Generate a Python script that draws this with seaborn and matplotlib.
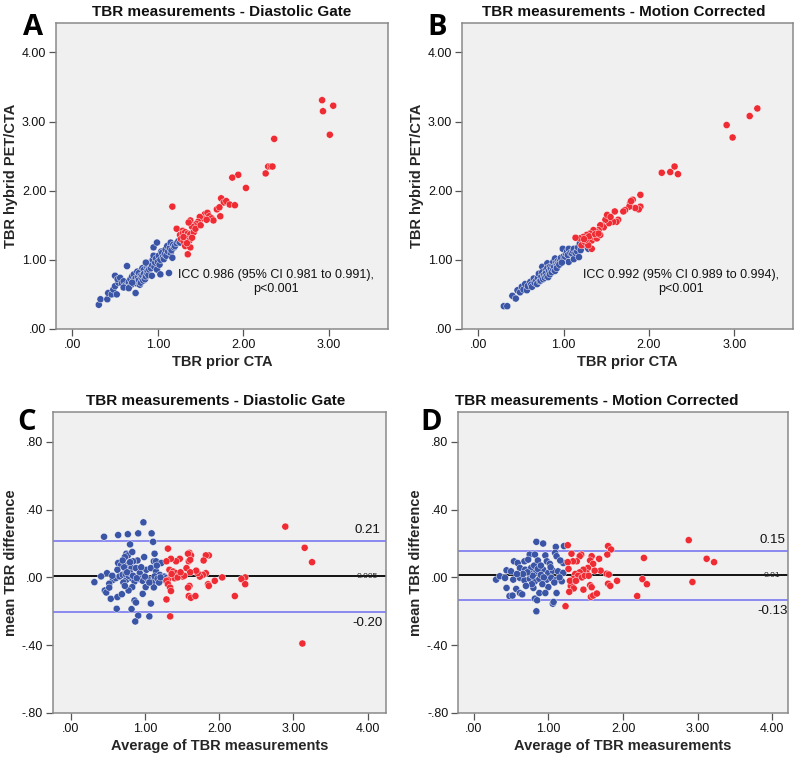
import numpy as np
import pandas as pd
import matplotlib
matplotlib.use("Agg")
import matplotlib.pyplot as plt
import seaborn as sns
from matplotlib.ticker import FuncFormatter

# ---- data ----
a_blue = [(0.31,0.35),(0.33,0.43),(0.41,0.43),(0.42,0.52),(0.46,0.50),(0.48,0.57),(0.52,0.50),(0.50,0.62),
          (0.54,0.67),(0.50,0.77),(0.53,0.72),(0.56,0.74),(0.58,0.66),(0.60,0.69),(0.62,0.63),(0.64,0.62),
          (0.64,0.91),(0.66,0.68),(0.68,0.72),(0.69,0.64),(0.70,0.76),(0.72,0.79),(0.72,0.70),(0.74,0.52),
          (0.74,0.73),(0.75,0.66),(0.76,0.69),(0.76,0.83),(0.77,0.75),(0.78,0.81),(0.78,0.71),(0.79,0.64),
          (0.80,0.67),(0.80,0.77),(0.81,0.74),(0.82,0.77),(0.82,0.88),(0.83,0.70),(0.84,0.86),(0.84,0.80),
          (0.85,0.72),(0.86,0.76),(0.87,0.81),(0.87,0.90),(0.88,0.84),(0.89,0.91),(0.89,0.78),(0.90,0.86),
          (0.91,0.96),(0.92,0.88),(0.93,0.77),(0.93,0.93),(0.94,1.00),(0.95,1.06),(0.95,1.18),(0.96,0.90),
          (0.97,0.96),(0.98,1.02),(0.99,0.86),(0.99,1.25),(1.00,0.97),(1.01,1.06),(1.02,0.93),(1.03,0.79),
          (1.03,1.00),(1.04,1.12),(1.05,1.10),(1.06,1.04),(1.07,1.01),(1.08,1.08),(1.09,1.15),(1.10,1.06),
          (1.11,1.20),(1.12,1.12),(1.13,0.81),(1.14,1.17),(1.15,1.10),(1.15,1.25),(1.16,1.14),(1.17,1.03),
          (1.18,1.22),(1.19,1.18),(1.20,1.20),(1.22,1.24),(1.24,1.27),(1.26,1.25),(1.28,1.30),(0.60,0.60),
          (0.66,0.59),(0.70,0.67),(0.86,0.96)]
a_red = [(2.92,3.31),(3.05,3.23),(2.93,3.15),(3.01,2.81),(2.36,2.75),(2.29,2.35),(2.32,2.35),(2.34,2.35),
         (2.26,2.25),(1.94,2.23),(1.87,2.19),(2.03,2.04),(1.17,1.77),(1.74,1.89),(1.77,1.83),(1.80,1.85),
         (1.84,1.80),(1.90,1.79),(1.69,1.73),(1.72,1.76),(1.73,1.63),(1.55,1.66),(1.58,1.68),(1.60,1.63),
         (1.63,1.60),(1.65,1.57),(1.52,1.60),(1.49,1.62),(1.47,1.55),(1.45,1.52),(1.42,1.50),(1.40,1.48),
         (1.38,1.57),(1.36,1.54),(1.22,1.45),(1.29,1.42),(1.26,1.36),(1.29,1.38),(1.32,1.40),(1.35,1.38),
         (1.38,1.37),(1.42,1.40),(1.27,1.30),(1.30,1.27),(1.33,1.31),(1.37,1.28),(1.40,1.32),(1.32,1.20),
         (1.38,1.18),(1.35,1.08),(1.44,1.45),(1.50,1.50),(1.57,1.58),(1.30,1.33),(1.34,1.24)]

b_blue = [(0.30,0.33),(0.34,0.33),(0.40,0.48),(0.44,0.44),(0.46,0.56),(0.49,0.53),(0.51,0.61),(0.53,0.57),
          (0.55,0.65),(0.57,0.56),(0.58,0.62),(0.61,0.68),(0.62,0.64),(0.63,0.61),(0.65,0.73),(0.66,0.67),
          (0.68,0.70),(0.69,0.65),(0.70,0.74),(0.71,0.80),(0.72,0.69),(0.73,0.70),(0.74,0.76),(0.75,0.90),
          (0.75,0.82),(0.76,0.72),(0.77,0.78),(0.78,0.74),(0.79,0.85),(0.79,0.80),(0.80,0.76),(0.81,0.95),
          (0.81,0.88),(0.82,0.75),(0.83,0.84),(0.84,0.90),(0.84,0.79),(0.85,0.87),(0.86,0.82),(0.87,0.92),
          (0.88,0.97),(0.88,0.86),(0.89,0.90),(0.90,1.02),(0.90,0.84),(0.91,0.95),(0.92,0.92),(0.93,0.98),
          (0.94,0.95),(0.96,0.99),(0.97,1.03),(0.99,1.16),(1.00,1.05),(1.02,1.04),(1.03,1.09),(1.04,1.12),
          (1.05,1.07),(1.06,1.16),(1.06,0.97),(1.08,1.10),(1.10,1.09),(1.11,1.13),(1.12,1.16),(1.12,1.01),
          (1.14,1.10),(1.16,1.12),(1.17,1.18),(1.18,1.04),(1.19,1.24),(1.21,1.19),(1.23,1.21),(1.25,1.23),
          (1.27,1.20),(1.29,1.16),(1.20,1.14),(0.92,0.88),(0.95,0.93),(0.98,0.96)]
b_red = [(3.27,3.19),(3.18,3.08),(2.91,2.95),(2.98,2.77),(2.15,2.26),(2.25,2.27),(2.30,2.35),(2.34,2.24),
         (1.90,1.94),(1.90,1.77),(1.88,1.73),(1.84,1.75),(1.81,1.87),(1.78,1.82),(1.77,1.77),(1.79,1.85),
         (1.72,1.72),(1.70,1.70),(1.60,1.70),(1.64,1.58),(1.62,1.55),(1.58,1.55),(1.53,1.53),(1.49,1.58),
         (1.51,1.65),(1.55,1.62),(1.45,1.50),(1.47,1.47),(1.43,1.50),(1.41,1.43),(1.38,1.41),(1.35,1.43),
         (1.31,1.38),(1.27,1.36),(1.23,1.33),(1.19,1.31),(1.14,1.32),(1.21,1.21),(1.25,1.26),(1.29,1.30),
         (1.33,1.28),(1.36,1.33),(1.39,1.31),(1.43,1.36),(1.33,1.16),(1.29,1.21),(1.26,1.29),(1.30,1.34),
         (1.37,1.37),(1.41,1.38),(1.24,1.30)]

c_blue = [(0.98,0.325),(1.09,0.26),(1.11,0.21),(0.91,0.26),(0.77,0.255),(0.64,0.25),(0.45,0.24),(0.80,0.195),
          (0.75,0.14),(0.77,0.13),(0.73,0.12),(0.83,0.15),(0.99,0.12),(1.13,0.14),(1.12,0.095),(1.15,0.095),
          (1.22,0.085),(0.90,0.10),(0.84,0.095),(0.64,0.085),(0.68,0.075),(0.77,0.075),(0.79,0.065),(0.63,0.045),
          (0.75,0.045),(0.79,0.035),(0.82,0.055),(0.88,0.055),(0.93,0.025),(1.02,0.045),(1.08,0.055),(1.15,0.035),
          (1.20,0.015),(1.26,0.005),(0.49,0.025),(0.41,0.006),(0.32,-0.028),(0.57,-0.014),(0.61,-0.004),(0.66,0.006),
          (0.70,0.016),(0.75,-0.014),(0.82,-0.004),(0.86,-0.024),(0.93,-0.01),(0.97,-0.02),(1.04,-0.01),(1.11,-0.024),
          (1.13,0.006),(1.17,-0.008),(1.24,-0.014),(1.29,-0.004),(0.52,-0.037),(0.46,-0.077),(0.48,-0.089),
          (0.54,-0.126),(0.63,-0.116),(0.69,-0.099),(0.83,-0.057),(1.01,-0.057),(1.12,-0.059),(0.97,-0.097),
          (0.86,-0.136),(0.88,-0.148),(1.08,-0.154),(0.62,-0.185),(0.82,-0.187),(0.91,-0.225),(0.87,-0.26),
          (1.06,-0.23),(0.78,-0.077),(0.74,0.02),(0.78,0.01),(0.80,0.025),(0.72,0.06),(0.76,0.03),(0.84,0.01),
          (0.89,-0.005),(1.00,0.005),(1.06,-0.03),(1.19,-0.03),(1.21,0.00),(0.71,-0.03),(0.73,-0.05),(0.95,0.06),
          (0.56,0.01),(0.52,-0.06),(1.16,0.07),(0.70,0.10),(0.80,0.09)]
c_red = [(2.89,0.30),(3.15,0.175),(3.25,0.09),(3.12,-0.39),(2.35,0.00),(2.30,-0.01),(2.35,-0.04),(2.21,-0.11),
         (2.04,0.00),(1.94,-0.02),(1.86,0.13),(1.82,0.13),(1.79,0.10),(1.85,-0.04),(1.86,-0.05),(1.82,0.025),
         (1.78,0.015),(1.74,0.005),(1.71,0.025),(1.69,0.04),(1.60,0.145),(1.62,0.13),(1.58,0.14),(1.59,0.095),
         (1.61,0.104),(1.56,0.055),(1.61,0.03),(1.60,-0.05),(1.58,-0.06),(1.59,-0.11),(1.62,-0.12),(1.68,-0.11),
         (1.47,0.11),(1.42,0.095),(1.35,0.11),(1.31,0.17),(1.29,0.095),(1.33,0.045),(1.38,0.035),(1.42,0.025),
         (1.47,0.015),(1.51,0.005),(1.35,0.005),(1.40,-0.005),(1.31,-0.015),(1.29,-0.02),(1.31,-0.04),(1.34,-0.06),
         (1.35,-0.08),(1.29,-0.13),(1.34,-0.23),(1.44,0.00),(1.53,0.01),(1.48,0.03),(1.36,0.02)]

d_blue = [(0.84,0.21),(0.93,0.20),(1.10,0.18),(1.21,0.185),(0.75,0.135),(0.82,0.135),(0.96,0.13),(1.09,0.145),
          (1.11,0.125),(0.54,0.095),(0.59,0.085),(0.68,0.095),(0.73,0.105),(0.98,0.095),(1.02,0.08),(1.20,0.085),
          (0.44,0.042),(0.50,0.036),(0.62,0.056),(0.69,0.046),(0.77,0.056),(0.84,0.036),(0.93,0.046),(1.00,0.027),
          (1.06,0.04),(1.13,0.036),(1.20,0.027),(0.30,-0.013),(0.35,0.007),(0.42,-0.003),(0.53,-0.013),(0.62,-0.003),
          (0.68,-0.017),(0.75,-0.007),(0.82,-0.023),(0.88,-0.009),(0.98,-0.013),(1.04,-0.003),(1.11,-0.013),
          (1.18,-0.023),(0.44,-0.062),(0.48,-0.11),(0.52,-0.107),(0.57,-0.068),(0.62,-0.092),(0.65,-0.10),
          (0.80,-0.062),(0.88,-0.092),(0.82,-0.125),(0.85,-0.135),(1.00,-0.057),(1.11,-0.092),(1.06,-0.155),
          (1.07,-0.145),(0.84,-0.20),(0.96,-0.092),(0.76,0.02),(0.79,0.01),(0.81,0.07),(0.86,0.05),(0.90,0.015),
          (0.94,0.00),(0.72,0.03),(0.66,0.02),(0.78,-0.04),(0.92,-0.04),(1.03,0.06),(1.15,0.00),(0.58,0.02),
          (0.70,-0.05),(0.86,0.10),(1.16,0.10),(0.90,0.07),(1.08,-0.03)]
d_red = [(2.88,0.22),(3.12,0.11),(3.22,0.09),(2.93,-0.027),(2.28,0.115),(2.26,-0.01),(2.32,-0.04),(2.19,-0.11),
         (1.92,-0.02),(1.80,0.185),(1.84,0.165),(1.79,0.135),(1.78,0.022),(1.81,0.017),(1.80,-0.037),(1.83,-0.05),
         (1.70,0.04),(1.68,0.11),(1.58,0.125),(1.56,0.10),(1.60,0.08),(1.53,0.056),(1.51,0.027),(1.47,0.046),
         (1.42,0.03),(1.44,0.135),(1.42,0.125),(1.38,0.095),(1.31,0.14),(1.33,0.095),(1.26,0.19),(1.26,0.09),
         (1.56,-0.046),(1.58,-0.058),(1.57,-0.115),(1.60,-0.107),(1.65,-0.095),(1.47,-0.072),(1.32,-0.03),
         (1.30,-0.05),(1.34,-0.065),(1.28,-0.085),(1.23,-0.17),(1.36,0.02),(1.40,0.01),(1.45,0.00),(1.49,0.01),
         (1.54,0.01),(1.33,-0.01),(1.29,-0.02),(1.37,-0.02),(1.62,0.04),(1.27,0.05)]

# Bland-Altman lines (upper LoA, mean, lower LoA) and their printed labels
c_lines = [0.215, 0.007, -0.203]
c_labels = ["0.21", "0.005", "-0.20"]
d_lines = [0.155, 0.013, -0.135]
d_labels = ["0.15", "0.01", "-0.13"]

icc_a = "ICC 0.986 (95% CI 0.981 to 0.991),\np<0.001"
icc_b = "ICC 0.992 (95% CI 0.989 to 0.994),\np<0.001"

BLUE = "#3b55a6"
RED = "#ef2b33"
LOA = "#7878f0"

sns.set_theme(style="ticks")
plt.rcParams["font.family"] = ["Liberation Sans", "DejaVu Sans"]


def frame(blue, red):
    b = pd.DataFrame(blue, columns=["x", "y"]).assign(g="low")
    r = pd.DataFrame(red, columns=["x", "y"]).assign(g="high")
    return pd.concat([b, r], ignore_index=True)


def spss_fmt(v, pos):
    s = f"{v:.2f}"
    return s.replace("0.", ".", 1) if s.lstrip("-").startswith("0.") else s


fig = plt.figure(figsize=(8, 7.58), dpi=100)
axA = fig.add_axes([0.070, 0.566, 0.415, 0.404])
axB = fig.add_axes([0.5775, 0.566, 0.414, 0.404])
axC = fig.add_axes([0.066, 0.0594, 0.416, 0.397])
axD = fig.add_axes([0.5725, 0.0594, 0.4125, 0.397])

# axis, data, letter, letter position (axes coords, baseline), title, title x
panels = [
    (axA, frame(a_blue, a_red), "A", (-0.10, 0.961), "TBR measurements - Diastolic Gate", 0.5),
    (axB, frame(b_blue, b_red), "B", (-0.106, 0.961), "TBR measurements - Motion Corrected", 0.487),
    (axC, frame(c_blue, c_red), "C", (-0.108, 0.942), "TBR measurements - Diastolic Gate", 0.49),
    (axD, frame(d_blue, d_red), "D", (-0.115, 0.942), "TBR measurements - Motion Corrected", 0.42),
]

for ax, df, letter, lpos, title, tx in panels:
    ax.set_facecolor("#f0f0f0")
    sns.scatterplot(data=df, x="x", y="y", hue="g", palette={"low": BLUE, "high": RED},
                    s=26, linewidth=0.3, edgecolor="white", legend=False, ax=ax, zorder=3)
    for sp in ax.spines.values():
        sp.set_color("#8a8a8a")
        sp.set_linewidth(1.1)
    ax.tick_params(axis="both", direction="out", length=5, width=0.9, color="#555555",
                   labelsize=9, pad=2, labelcolor="#111111")
    ax.xaxis.set_major_formatter(FuncFormatter(spss_fmt))
    ax.yaxis.set_major_formatter(FuncFormatter(spss_fmt))
    ax.set_title(title, x=tx, fontsize=11, fontweight="bold", pad=5, color="#111111")
    ax.text(lpos[0], lpos[1], letter, transform=ax.transAxes, fontsize=21, fontweight="bold",
            ha="left", va="baseline", color="black", family=["Open Sans", "DejaVu Sans"])

for ax, txt in [(axA, icc_a), (axB, icc_b)]:
    ax.set_xlim(-0.19, 3.69)
    ax.set_ylim(0, 4.43)
    ax.set_xticks([0, 1, 2, 3])
    ax.set_yticks([0, 1, 2, 3, 4])
    ax.set_xlabel("TBR prior CTA", fontsize=10.5, fontweight="bold", labelpad=3)
    ax.set_ylabel("TBR hybrid PET/CTA", fontsize=10.5, fontweight="bold", labelpad=3)
    ax.text(2.38, 0.68, txt, fontsize=9, ha="center", va="center", multialignment="center",
            color="#111111", zorder=4)

for ax, lines, labels, xl in [(axC, c_lines, c_labels, (-0.24, 4.24)),
                             (axD, d_lines, d_labels, (-0.21, 4.21))]:
    ax.set_xlim(*xl)
    ax.set_ylim(-0.8, 0.976)
    ax.set_xticks([0, 1, 2, 3, 4])
    ax.set_yticks([-0.8, -0.4, 0, 0.4, 0.8])
    ax.set_xlabel("Average of TBR measurements", fontsize=10.5, fontweight="bold", labelpad=3)
    ax.set_ylabel("mean TBR difference", fontsize=10.5, fontweight="bold", labelpad=3)
    ax.axhline(lines[0], color=LOA, lw=1.2, zorder=2)
    ax.axhline(lines[1], color="#111111", lw=1.4, zorder=2)
    ax.axhline(lines[2], color=LOA, lw=1.2, zorder=2)
    ax.text(4.0, lines[0] + 0.065, labels[0], fontsize=9.5, ha="center", va="center", color="#111111")
    ax.text(4.0, lines[1], labels[1], fontsize=6, ha="center", va="center", color="#222222", zorder=4)
    ax.text(4.0, lines[2] - 0.065, labels[2], fontsize=9.5, ha="center", va="center", color="#111111")

fig.savefig("out.png", dpi=100)
